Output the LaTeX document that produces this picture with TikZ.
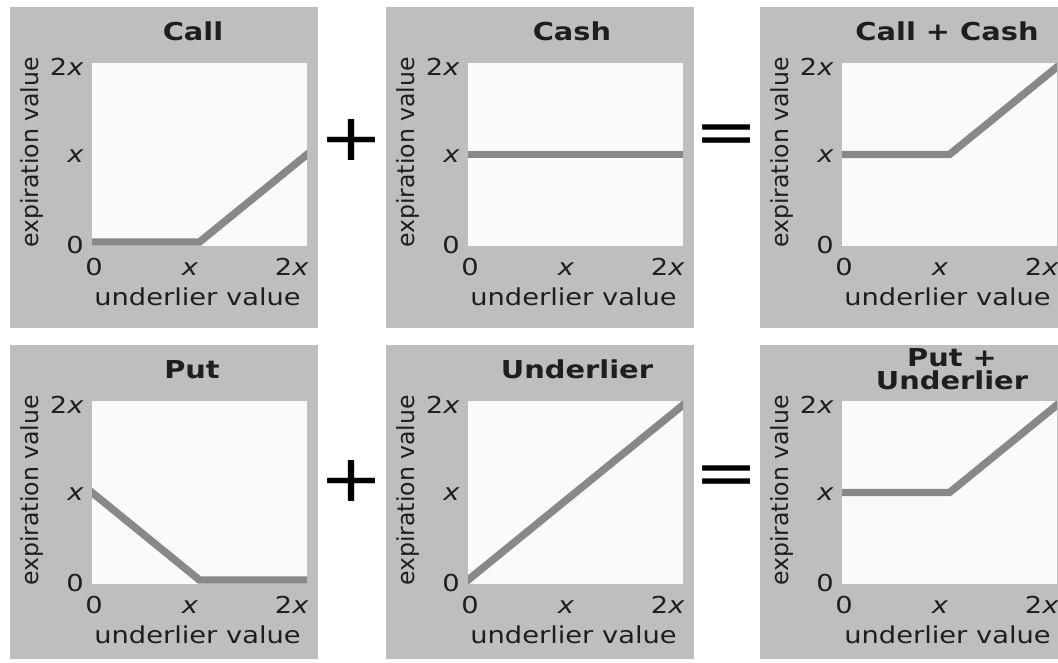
\documentclass[tikz,border=0pt]{standalone}
\usepackage{fontspec}
\setmainfont{DejaVu Sans}[FakeStretch=1.17]
\newfontfamily\ylabelfont{DejaVu Sans}
\definecolor{panelgray}{HTML}{BEBEBE}
\definecolor{plotwhite}{HTML}{FAFAFA}
\definecolor{payoffgray}{HTML}{888888}
\definecolor{inkgray}{HTML}{1E1E1E}

\begin{document}
\begin{tikzpicture}[x=0.75pt,y=-0.75pt,
	panel/.style={fill=panelgray},
	plotarea/.style={fill=plotwhite},
	ticklabel/.style={text=inkgray,font=\fontsize{17.5}{20}\selectfont,inner sep=0pt},
	xlabel/.style={text=inkgray,font=\fontsize{17.5}{20}\selectfont,inner sep=0pt,anchor=base},
	ylabel/.style={text=inkgray,font=\ylabelfont\fontsize{17.7}{20}\selectfont,inner sep=0pt,rotate=90},
	paneltitle/.style={text=inkgray,font=\fontsize{18.5}{17}\selectfont\bfseries,inner sep=0pt,align=center},
	opsign/.style={text=black,font=\fontsize{49}{49}\selectfont,inner sep=0pt},
	payoff/.style={draw=payoffgray,line width=5.6pt},
	payoffaxes/.style={shift={(82,235)},x=80.625pt,y=65.625pt}]
	
	\path[use as bounding box,clip] (0,0) rectangle (1058,662);
	\fill[white] (0,0) rectangle (1058,662);
	
	% ======================================================
	% Six panels: grey frame, plot area, ticks and axis labels
	% ======================================================
	\foreach \px/\py/\bh [count=\i] in {10/7/321,386/7/321,760/7/321,10/345/314,386/345/314,760/345/314}{
		\begin{scope}[shift={(\px,\py)}]
			\fill[panel] (0,0) rectangle (308,\bh);
			\fill[plotarea] (82,56) rectangle (297,239);
			
			% value axis
			\node[ticklabel,anchor=east] (ytwo-\i) at (74,60) {2\textit{x}};
			\node[ticklabel,anchor=east] (yone-\i) at (74,149) {\textit{x}};
			\node[ticklabel,anchor=east] (yzero-\i) at (74,238) {0};
			\node[ylabel] (ylab-\i) at (21.5,145.5) {expiration value};
			
			% underlier axis
			\node[xlabel,anchor=base west] (xzero-\i) at (75,268) {0};
			\node[xlabel] (xone-\i) at (180,268) {\textit{x}};
			\node[xlabel,anchor=base east] (xtwo-\i) at (299,268) {2\textit{x}};
			\node[xlabel] (xlab-\i) at (187.5,298) {underlier value};
		\end{scope}
	}
	
	% ======================================================
	% Top row: Call + Cash = Call + Cash
	% ======================================================
	\begin{scope}[shift={(10,7)}]
		\node[paneltitle,anchor=base] (callT) at (183,33) {Call};
		\clip (82,56) rectangle (297,239);
		\draw[payoff,payoffaxes] (-0.1,0) -- (1,0) -- (2.1,1.1);
	\end{scope}
	
	\begin{scope}[shift={(386,7)}]
		\node[paneltitle,anchor=base] (cashT) at (186,33) {Cash};
		\clip (82,56) rectangle (297,239);
		\draw[payoff,payoffaxes] (-0.1,1) -- (2.1,1);
	\end{scope}
	
	\begin{scope}[shift={(760,7)}]
		\node[paneltitle,anchor=base] (callcashT) at (187,33) {Call + Cash};
		\clip (82,56) rectangle (297,239);
		\draw[payoff,payoffaxes] (-0.1,1) -- (1,1) -- (2.1,2.1);
	\end{scope}
	
	\node[opsign] (plusA) at (352,140) {+};
	\node[opsign] (equalA) at (727,140) {=};
	
	% ======================================================
	% Bottom row: Put + Underlier = Put + Underlier
	% ======================================================
	\begin{scope}[shift={(10,345)}]
		\node[paneltitle,anchor=base] (putT) at (182,33) {Put};
		\clip (82,56) rectangle (297,239);
		\draw[payoff,payoffaxes] (-0.1,1.1) -- (1,0) -- (2.1,0);
	\end{scope}
	
	\begin{scope}[shift={(386,345)}]
		\node[paneltitle,anchor=base] (underT) at (191,33) {Underlier};
		\clip (82,56) rectangle (297,239);
		\draw[payoff,payoffaxes] (-0.1,-0.1) -- (2.1,2.1);
	\end{scope}
	
	\begin{scope}[shift={(760,345)}]
		\node[paneltitle] (putunderT) at (192,24) {Put +\\Underlier};
		\clip (82,56) rectangle (297,239);
		\draw[payoff,payoffaxes] (-0.1,1) -- (1,1) -- (2.1,2.1);
	\end{scope}
	
	\node[opsign] (plusB) at (352,481) {+};
	\node[opsign] (equalB) at (727,481) {=};
	
\end{tikzpicture}
\end{document}
